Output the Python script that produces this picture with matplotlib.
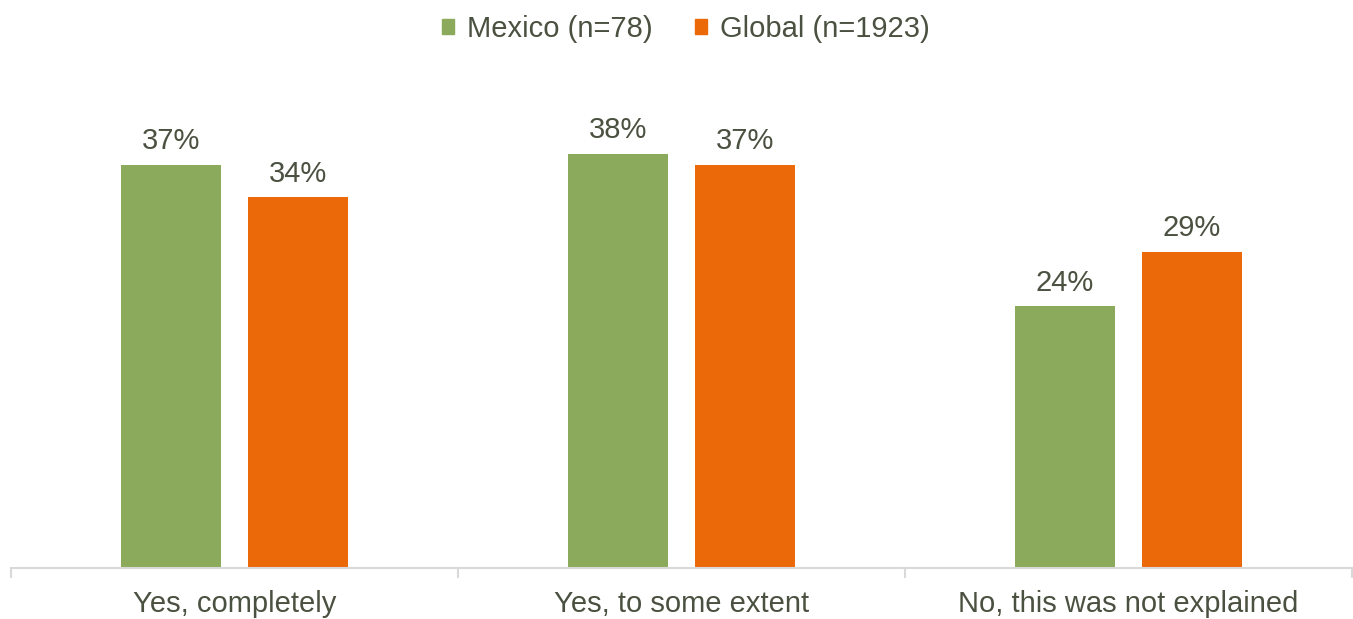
import matplotlib
matplotlib.use("Agg")
from matplotlib import pyplot as plt
from matplotlib.patches import Patch
import numpy as np

categories = ["Yes, completely", "Yes, to some extent", "No, this was not explained"]
mexico = [37, 38, 24]
global_vals = [34, 37, 29]
series_names = ["Mexico (n=78)", "Global (n=1923)"]

green = "#8BAA5B"
orange = "#EB6909"
text_col = "#4B5140"

plt.rcParams['font.family'] = ['Liberation Sans', 'DejaVu Sans']

fig = plt.figure(figsize=(13.53, 6.19), dpi=100)
ax = fig.add_axes([11 / 1353, 51 / 619, 1341 / 1353, 508 / 619])

x = np.arange(len(categories))
w = 0.2237
off = 0.142
b1 = ax.bar(x - off, mexico, w, color=green)
b2 = ax.bar(x + off, global_vals, w, color=orange)

# value labels
for bars, vals in [(b1, mexico), (b2, global_vals)]:
    for r, v in zip(bars, vals):
        ax.annotate("{0}%".format(v), (r.get_x() + r.get_width() / 2, r.get_height()),
                    xytext=(0, 7), textcoords="offset points",
                    ha="center", va="bottom", fontsize=21, color=text_col)

ax.set_xlim(-0.5, 2.5)
ax.set_ylim(0, 46.6)
ax.set_yticks([])
for s in ["top", "right", "left"]:
    ax.spines[s].set_visible(False)
ax.spines["bottom"].set_color("#D9D9D9")
ax.spines["bottom"].set_linewidth(1.5)

# category labels and boundary ticks
ax.set_xticks(x)
ax.set_xticklabels(categories, fontsize=21, color=text_col)
ax.tick_params(axis="x", which="major", length=0, pad=16)
ax.set_xticks(np.arange(-0.5, 3, 1), minor=True)
ax.tick_params(axis="x", which="minor", length=7, width=1.5, color="#D9D9D9", direction="out")

# legend
handles = [Patch(color=green), Patch(color=orange)]
fig.legend(handles, series_names, loc="upper center", bbox_to_anchor=(0.507, 1.018),
           ncol=2, frameon=False, fontsize=21, handlelength=0.42, handleheight=0.42,
           handletextpad=0.45, columnspacing=1.45, labelcolor=text_col)

fig.savefig("out.png", dpi=100)
